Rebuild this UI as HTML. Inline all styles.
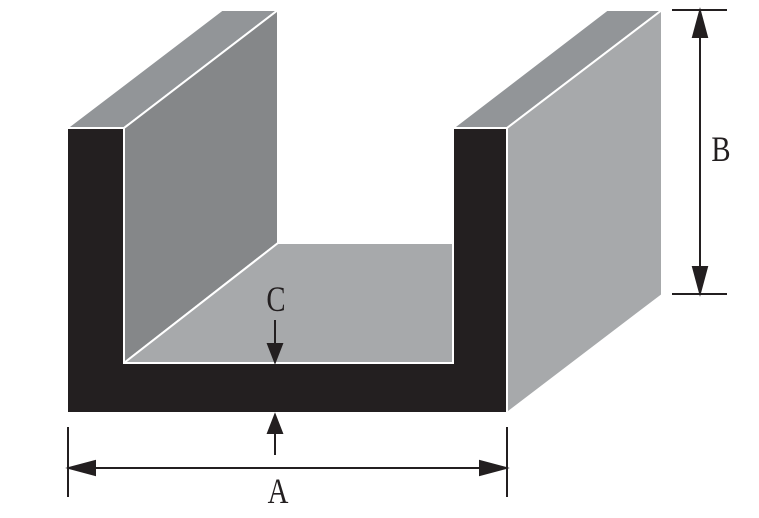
<!DOCTYPE html>
<html><head><style>html,body{margin:0;padding:0;background:#fff;width:759px;height:518px;overflow:hidden}</style></head>
<body>
<svg width="759" height="518" viewBox="0 0 759 518" xmlns="http://www.w3.org/2000/svg">
<polygon points="67,128 124,128 278,10 222,10" fill="#929598" stroke="#fff" stroke-width="2"/>
<polygon points="124,128 278,10 278,243 124,363" fill="#858789" stroke="#fff" stroke-width="2"/>
<polygon points="124,363 278,243 453,243 453,363" fill="#a7a9ab" stroke="#fff" stroke-width="2"/>
<polygon points="453,128 507,128 662,10 607,10" fill="#929598" stroke="#fff" stroke-width="2"/>
<polygon points="507,128 662,10 662,295 507,413" fill="#a7a9ab" stroke="#fff" stroke-width="2"/>
<polygon points="67,128 124,128 124,363 453,363 453,128 507,128 507,413 67,413" fill="#231f20" stroke="#fff" stroke-width="2"/>
<g stroke="#231f20" stroke-width="2" fill="#231f20">
<line x1="672" y1="10" x2="727" y2="10"/><line x1="672" y1="294" x2="727" y2="294"/>
<line x1="700" y1="20" x2="700" y2="284"/>
<polygon points="700,11 693,37 707,37"/><polygon points="700,293 693,267 707,267"/>
<line x1="68" y1="427" x2="68" y2="497"/><line x1="507" y1="427" x2="507" y2="497"/>
<line x1="76" y1="468" x2="499" y2="468"/>
<polygon points="69,468 95,461 95,475"/><polygon points="506,468 480,461 480,475"/>
<line x1="275" y1="320" x2="275" y2="350"/><polygon points="275,362 268,344 282,344"/>
<line x1="275" y1="455" x2="275" y2="428"/><polygon points="275,415 268,433 282,433"/>
</g>
<g font-family="Liberation Serif, serif" font-size="36" fill="#231f20" text-anchor="middle">
<text x="0" y="0" transform="translate(721,161) scale(0.8,1)">B</text>
<text x="0" y="0" transform="translate(276,311) scale(0.8,1)">C</text>
<text x="0" y="0" transform="translate(278,503) scale(0.8,1)">A</text>
</g>
</svg>
</body></html>
